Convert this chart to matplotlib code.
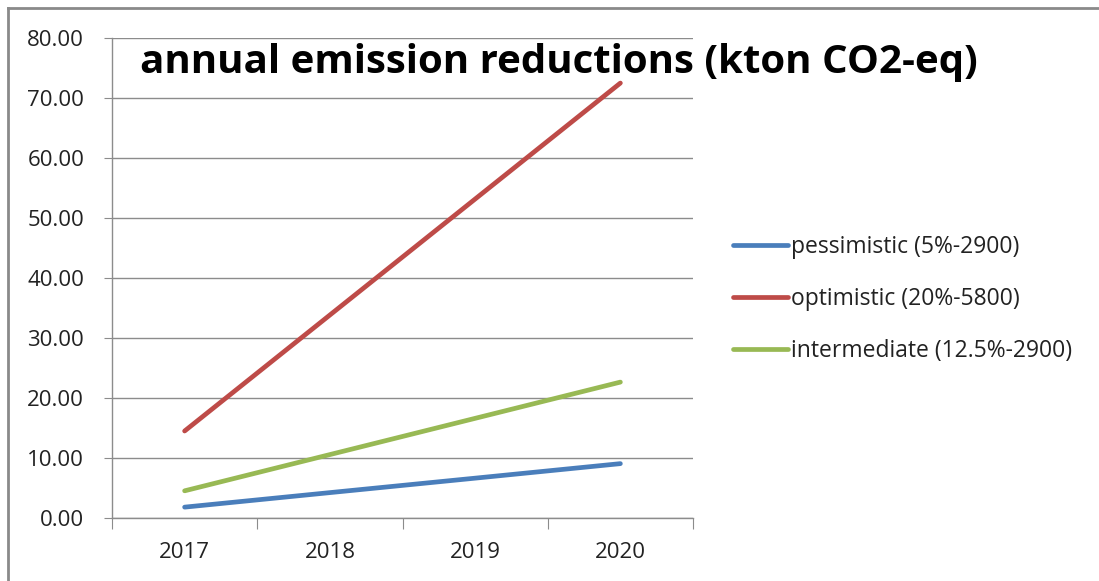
import matplotlib
matplotlib.use("Agg")
import matplotlib.pyplot as plt
from matplotlib.lines import Line2D
from matplotlib.ticker import FormatStrFormatter

# data
years = ["2017", "2018", "2019", "2020"]
pessimistic = [1.81, 4.23, 6.64, 9.06]
optimistic = [14.50, 33.83, 53.16, 72.49]
intermediate = [4.53, 10.57, 16.61, 22.65]
labels = ["pessimistic (5%-2900)", "optimistic (20%-5800)", "intermediate (12.5%-2900)"]
colors = ["#4A7EBB", "#BE4B48", "#98B954"]

plt.rcParams['font.family'] = ['Open Sans', 'DejaVu Sans']

W, H = 1099, 581
fig = plt.figure(figsize=(W / 100, H / 100), dpi=100)
ax = fig.add_axes([112 / W, 1 - 518 / H, (693 - 112) / W, (518 - 38) / H])

x = list(range(len(years)))
for series, lab, c in zip([pessimistic, optimistic, intermediate], labels, colors):
    ax.plot(x, series, color=c, lw=3.4, label=lab, solid_capstyle="round")

# axes styling, excel-like
ax.set_xlim(-0.5, len(years) - 0.5)
ax.set_ylim(0, 80)
ax.set_yticks(range(0, 81, 10))
ax.yaxis.set_major_formatter(FormatStrFormatter("%.2f"))
ax.grid(axis="y", color="#8c8c8c", lw=1)
ax.set_axisbelow(True)
for s in ["top", "right"]:
    ax.spines[s].set_visible(False)
for s in ["left", "bottom"]:
    ax.spines[s].set_color("#8c8c8c")
    ax.spines[s].set_linewidth(1)

ax.set_xticks([i - 0.5 for i in range(len(years) + 1)])
ax.set_xticklabels([])
ax.set_xticks(x, minor=True)
ax.set_xticklabels(years, minor=True)
ax.tick_params(axis="x", which="major", direction="out", length=8, color="#8c8c8c")
ax.tick_params(axis="x", which="minor", length=0, pad=17, labelsize=16, labelcolor="#222222")
ax.tick_params(axis="y", direction="out", length=6, color="#8c8c8c", pad=14,
               labelsize=16, labelcolor="#222222")

# title sits inside the plot, over the gridlines
fig.text(559 / W, 1 - 62 / H, "annual emission reductions (kton CO2-eq)",
         ha="center", va="center", fontsize=29, fontweight="bold", zorder=5)

fig.legend(loc="center left", bbox_to_anchor=(712 / W, 1 - 299 / H), frameon=False,
           fontsize=16.5, handlelength=2.42, handletextpad=0.14, labelspacing=1.22,
           labelcolor="#222222")

# outer frame (top and left visible)
fig.add_artist(Line2D([8 / W, 1], [1 - 8 / H, 1 - 8 / H], color="#8a8a8a", lw=2,
                      transform=fig.transFigure))
fig.add_artist(Line2D([8 / W, 8 / W], [0, 1 - 8 / H], color="#8a8a8a", lw=2,
                      transform=fig.transFigure))

fig.savefig("out.png", dpi=100)
